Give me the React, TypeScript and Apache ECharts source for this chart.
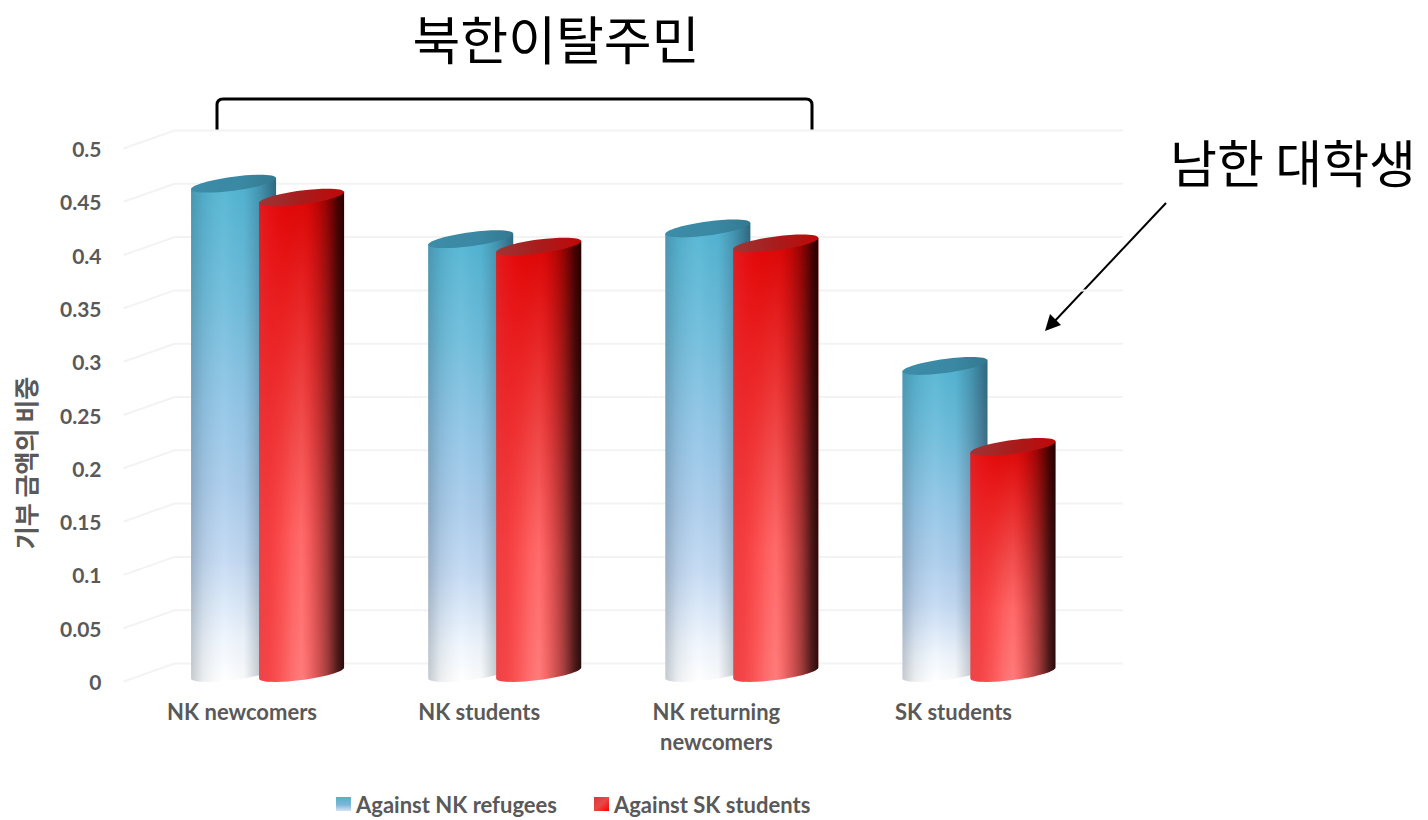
import React, { useEffect, useRef } from "react";
import * as echarts from "echarts";

const categories = ["NK newcomers", "NK students", "NK returning\nnewcomers", "SK students"];
const againstNkRefugees = [0.459, 0.407, 0.417, 0.288];
const againstSkStudents = [0.446, 0.4, 0.403, 0.212];
const yTicks = [0, 0.05, 0.1, 0.15, 0.2, 0.25, 0.3, 0.35, 0.4, 0.45, 0.5];
const seriesNames = ["Against NK refugees", "Against SK students"];

const TEXT_FONT = "Lato, Carlito, 'Open Sans', sans-serif";
const KR_FONT = "'Noto Sans CJK KR', sans-serif";

echarts.graphic.registerShape(
  "bracket",
  echarts.graphic.extendPath("M217 130 L217 105 Q217 99 223 99 L806 99 Q812 99 812 105 L812 130", {} as any) as any,
);

const linear = (x2: number, y2: number, stops: [number, string][]) => ({
  type: "linear",
  x: 0,
  y: 0,
  x2,
  y2,
  colorStops: stops.map(([offset, color]) => ({ offset, color })),
});

interface Skin {
  base: any;
  shade: any;
  cap: any;
}

const tealSkin: Skin = {
  base: linear(0, 1, [
    [0, "#4fb4d2"],
    [0.23, "#6dbddb"],
    [0.43, "#8fc5e6"],
    [0.62, "#abcdec"],
    [0.76, "#c4daf3"],
    [0.92, "#f0f6fd"],
    [1, "#ffffff"],
  ]),
  shade: linear(1, 0, [
    [0, "rgba(50,70,85,0.28)"],
    [0.14, "rgba(50,70,85,0.1)"],
    [0.4, "rgba(255,255,255,0.05)"],
    [0.62, "rgba(40,60,80,0.03)"],
    [0.82, "rgba(20,40,60,0.26)"],
    [1, "rgba(20,40,60,0.55)"],
  ]),
  cap: linear(1, 0, [
    [0, "#3d8da8"],
    [0.6, "#3a88a3"],
    [1, "#33788f"],
  ]),
};

const redSkin: Skin = {
  base: linear(0, 1, [
    [0, "#dc0404"],
    [0.25, "#e82a2a"],
    [0.5, "#f25050"],
    [0.7, "#ff6a6a"],
    [1, "#ff7c7c"],
  ]),
  shade: linear(1, 0, [
    [0, "rgba(225,40,45,0.65)"],
    [0.12, "rgba(235,25,30,0.55)"],
    [0.38, "rgba(240,0,0,0.12)"],
    [0.5, "rgba(240,0,0,0)"],
    [0.62, "rgba(150,0,0,0.2)"],
    [0.8, "rgba(70,0,0,0.5)"],
    [0.92, "rgba(30,0,0,0.78)"],
    [1, "rgba(15,0,0,0.9)"],
  ]),
  cap: linear(1, 0, [
    [0, "#a03434"],
    [0.5, "#a81c1c"],
    [1, "#c00808"],
  ]),
};

const HALF_WIDTH = 42.5;
const RISE = 5.5;
const DEPTH = 7;
const LIFT = 3;
const K = 0.5523;

// Cubic segments of a sheared ellipse: the long side climbs to the right, the short side is vertical.
const lowerArc = (cx: number, cy: number) => {
  const ux = HALF_WIDTH, uy = -RISE, vy = DEPTH;
  return [
    `C${cx - ux} ${cy - uy + K * vy} ${cx - K * ux} ${cy + vy - K * uy} ${cx} ${cy + vy}`,
    `C${cx + K * ux} ${cy + vy + K * uy} ${cx + ux} ${cy + uy + K * vy} ${cx + ux} ${cy + uy}`,
  ].join(" ");
};

const upperArc = (cx: number, cy: number) => {
  const ux = HALF_WIDTH, uy = -RISE, vy = DEPTH;
  return [
    `C${cx + ux} ${cy + uy - K * vy} ${cx + K * ux} ${cy - vy + K * uy} ${cx} ${cy - vy}`,
    `C${cx - K * ux} ${cy - vy - K * uy} ${cx - ux} ${cy - uy - K * vy} ${cx - ux} ${cy - uy}`,
  ].join(" ");
};

const cylinder = (skin: Skin, xOffset: number) => (_: any, api: any) => {
  const top = api.coord([api.value(0), api.value(1)]);
  const bottom = api.coord([api.value(0), 0]);
  const cx = top[0] + xOffset;
  const topY = top[1] - RISE - LIFT;
  const baseY = bottom[1] - RISE - LIFT;
  const body =
    `M${cx - HALF_WIDTH} ${topY + RISE} L${cx - HALF_WIDTH} ${baseY + RISE} ` +
    lowerArc(cx, baseY) +
    ` L${cx + HALF_WIDTH} ${topY - RISE} Z`;
  const cap = `M${cx - HALF_WIDTH} ${topY + RISE} ` + lowerArc(cx, topY) + " " + upperArc(cx, topY) + " Z";
  const layer = (fill: any, pathData: string) => ({
    type: "path",
    shape: { pathData },
    style: { fill },
    silent: true,
  });
  return {
    type: "group",
    children: [layer(skin.base, body), layer(skin.shade, body), layer(skin.cap, cap)],
  };
};

// Back wall and floor rulings, set back up and to the right of the value scale.
const WALL_DX = 51;
const WALL_DY = -18;
const wallLine = (_: any, api: any) => {
  const v = api.value(0);
  const start = api.coord([0, v]);
  const end = api.coord([3, v]);
  const band = api.size([1, 0])[0];
  const left = start[0] - band / 2;
  const right = end[0] + band / 2;
  const y = start[1];
  return {
    type: "polyline",
    shape: {
      points: [
        [left, y],
        [left + WALL_DX, y + WALL_DY],
        [right + WALL_DX, y + WALL_DY],
      ],
    },
    style: { stroke: "#f3f3f3", lineWidth: 2, fill: "none" },
    silent: true,
  };
};

export default function App() {
  const ref = useRef<HTMLDivElement>(null);

  useEffect(() => {
    document.body.style.margin = "0";
    const chart = echarts.init(ref.current!, null, { renderer: "svg" });
    chart.setOption({
      animation: false,
      backgroundColor: "#ffffff",
      grid: { left: 123.5, top: 148.5, width: 948.5, height: 533, containLabel: false },
      xAxis: {
        type: "category",
        data: categories,
        axisLine: { show: false },
        axisTick: { show: false },
        axisLabel: {
          interval: 0,
          margin: 15,
          lineHeight: 30,
          fontFamily: TEXT_FONT,
          fontWeight: "bold",
          fontSize: 22,
          color: "#595959",
        },
      },
      yAxis: {
        type: "value",
        min: 0,
        max: 0.5,
        interval: 0.05,
        axisLine: { show: false },
        axisTick: { show: false },
        splitLine: { show: false },
        axisLabel: {
          margin: 22,
          fontFamily: TEXT_FONT,
          fontWeight: "bold",
          fontSize: 21,
          color: "#595959",
        },
      },
      legend: {
        left: 331,
        top: 788,
        itemWidth: 15,
        itemHeight: 14,
        itemGap: 37,
        selectedMode: false,
        textStyle: {
          fontFamily: TEXT_FONT,
          fontWeight: "bold",
          fontSize: 22,
          color: "#595959",
        },
        data: [
          {
            name: seriesNames[0],
            icon: "rect",
            itemStyle: { color: linear(0, 1, [[0, "#55b0cc"], [0.55, "#7db6d6"], [1, "#d5e2f4"]]) },
          },
          {
            name: seriesNames[1],
            icon: "rect",
            itemStyle: { color: linear(1, 1, [[0, "#d83838"], [0.5, "#e84848"], [1, "#ff0000"]]) },
          },
        ],
      },
      series: [
        {
          type: "custom",
          name: "rulings",
          silent: true,
          clip: false,
          encode: { y: 0 },
          data: yTicks.map((v) => [v]),
          renderItem: wallLine,
          z: 1,
        },
        {
          type: "custom",
          name: seriesNames[0],
          clip: false,
          encode: { x: 0, y: 1 },
          itemStyle: { color: "#55b0cc" },
          data: againstNkRefugees.map((v, i) => [i, v]),
          renderItem: cylinder(tealSkin, -8.5),
          z: 2,
        },
        {
          type: "custom",
          name: seriesNames[1],
          clip: false,
          encode: { x: 0, y: 1 },
          itemStyle: { color: "#e03030" },
          data: againstSkStudents.map((v, i) => [i, v]),
          renderItem: cylinder(redSkin, 59.5),
          z: 3,
        },
      ],
      graphic: [
        {
          type: "text",
          x: 556,
          y: 37,
          style: {
            text: "북한이탈주민",
            fontFamily: KR_FONT,
            fontSize: 52,
            fill: "#000",
            textAlign: "center",
            textVerticalAlign: "middle",
          },
        },
        {
          type: "text",
          x: 1293,
          y: 161,
          style: {
            text: "남한 대학생",
            fontFamily: KR_FONT,
            fontSize: 51,
            fill: "#000",
            textAlign: "center",
            textVerticalAlign: "middle",
          },
        },
        {
          type: "text",
          x: 25,
          y: 463,
          rotation: Math.PI / 2,
          style: {
            text: "기부 금액의 비중",
            fontFamily: KR_FONT,
            fontWeight: "bold",
            fontSize: 25,
            fill: "#595959",
            textAlign: "center",
            textVerticalAlign: "middle",
          },
        },
        {
          type: "bracket",
          x: 0,
          y: 0,
          style: { stroke: "#000", lineWidth: 3, fill: "none" },
        },
        {
          type: "line",
          shape: { x1: 1166, y1: 203, x2: 1052, y2: 324 },
          style: { stroke: "#000", lineWidth: 2 },
        },
        {
          type: "polygon",
          shape: {
            points: [
              [1045, 331],
              [1050, 314],
              [1061, 325],
            ],
          },
          style: { fill: "#000" },
        },
      ],
    });
    return () => chart.dispose();
  }, []);

  return <div ref={ref} style={{ position: "absolute", left: 0, top: 0, width: 1428, height: 820 }} />;
}
